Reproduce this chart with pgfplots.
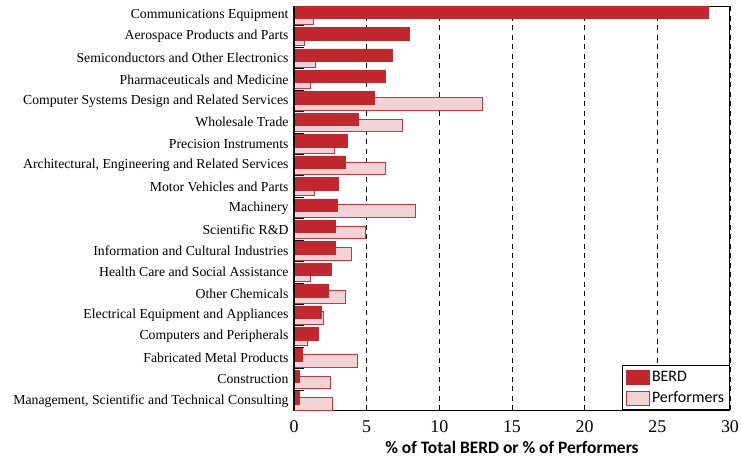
\documentclass[border=0pt]{standalone}
\usepackage{fontspec}
\setmainfont{Liberation Serif}
\newfontfamily\sansf{Carlito}
\usepackage{pgfplots}
\pgfplotsset{compat=1.18}
\definecolor{berd}{HTML}{C1272D}
\definecolor{perffill}{HTML}{F2D3D5}
\definecolor{perfline}{HTML}{C9343A}
\begin{document}
\begin{tikzpicture}
\begin{axis}[
  name=ax,
  scale only axis, width=436bp, height=404bp,
  xmin=0, xmax=30, ymin=-0.43, ymax=18.43, y dir=reverse,
  xtick={0,5,...,30},
  ytick={0,...,18},
  yticklabels={Communications Equipment,Aerospace Products and Parts,Semiconductors and Other Electronics,Pharmaceuticals and Medicine,Computer Systems Design and Related Services,Wholesale Trade,Precision Instruments,{Architectural, Engineering and Related Services},Motor Vehicles and Parts,Machinery,Scientific R\&D,Information and Cultural Industries,Health Care and Social Assistance,Other Chemicals,Electrical Equipment and Appliances,Computers and Peripherals,Fabricated Metal Products,Construction,{Management, Scientific and Technical Consulting}},
  yticklabel style={font=\fontsize{13.8}{15}\selectfont, xshift=-2bp},
  xticklabel style={font=\fontsize{18}{20}\selectfont, yshift=-7bp},
  /pgf/number format/assume math mode=true,
  major tick length=0pt,
  ytick pos=left,
  extra y ticks={0.5,1.5,...,17.5},
  extra y tick labels={},
  extra y tick style={major tick length=10bp, tick style={black, line width=0.9bp}},
  xmajorgrids,
  grid style={black, line width=0.9bp, dash pattern=on 5bp off 4.5bp},
  axis line style={line width=1bp},
  xlabel={\sansf\bfseries\fontsize{17.5}{20}\selectfont \% of Total BERD or \% of Performers},
  xlabel style={yshift=-2bp},
  bar width=12.5bp,
  reverse legend,
  legend style={at={(1,0)}, anchor=south east, draw=black, line width=0.8bp,
    font=\sansf\fontsize{16}{18}\selectfont, row sep=5bp, inner sep=3.5bp,
    cells={anchor=west}},
  legend image code/.code={\draw[#1] (0bp,-7bp) rectangle (23bp,7bp);},
]
\addplot[xbar, bar shift=-3bp, fill=perffill, draw=perfline, line width=0.8bp] coordinates {
(1.34,0) (0.74,1) (1.50,2) (1.14,3) (12.93,4) (7.45,5) (2.81,6) (6.32,7) (1.43,8) (8.32,9)
(4.94,10) (3.93,11) (1.14,12) (3.52,13) (2.03,14) (0.95,15) (4.35,16) (2.53,17) (2.63,18)};
\addlegendentry{Performers}
\addplot[xbar, bar shift=3bp, fill=berd, draw=berd, line width=0.5bp] coordinates {
(28.48,0) (7.93,1) (6.73,2) (6.25,3) (5.54,4) (4.44,5) (3.64,6) (3.54,7) (3.06,8) (2.95,9)
(2.83,10) (2.83,11) (2.53,12) (2.35,13) (1.85,14) (1.66,15) (0.54,16) (0.36,17) (0.36,18)};
\addlegendentry{BERD}
\draw[line width=2.2bp] (rel axis cs:0,0) -- (rel axis cs:0,1);
\end{axis}
\pgfresetboundingbox
\path ([shift={(-294bp,-48bp)}]ax.south west) rectangle ([shift={(447bp,410bp)}]ax.south west);
\end{tikzpicture}
\end{document}
